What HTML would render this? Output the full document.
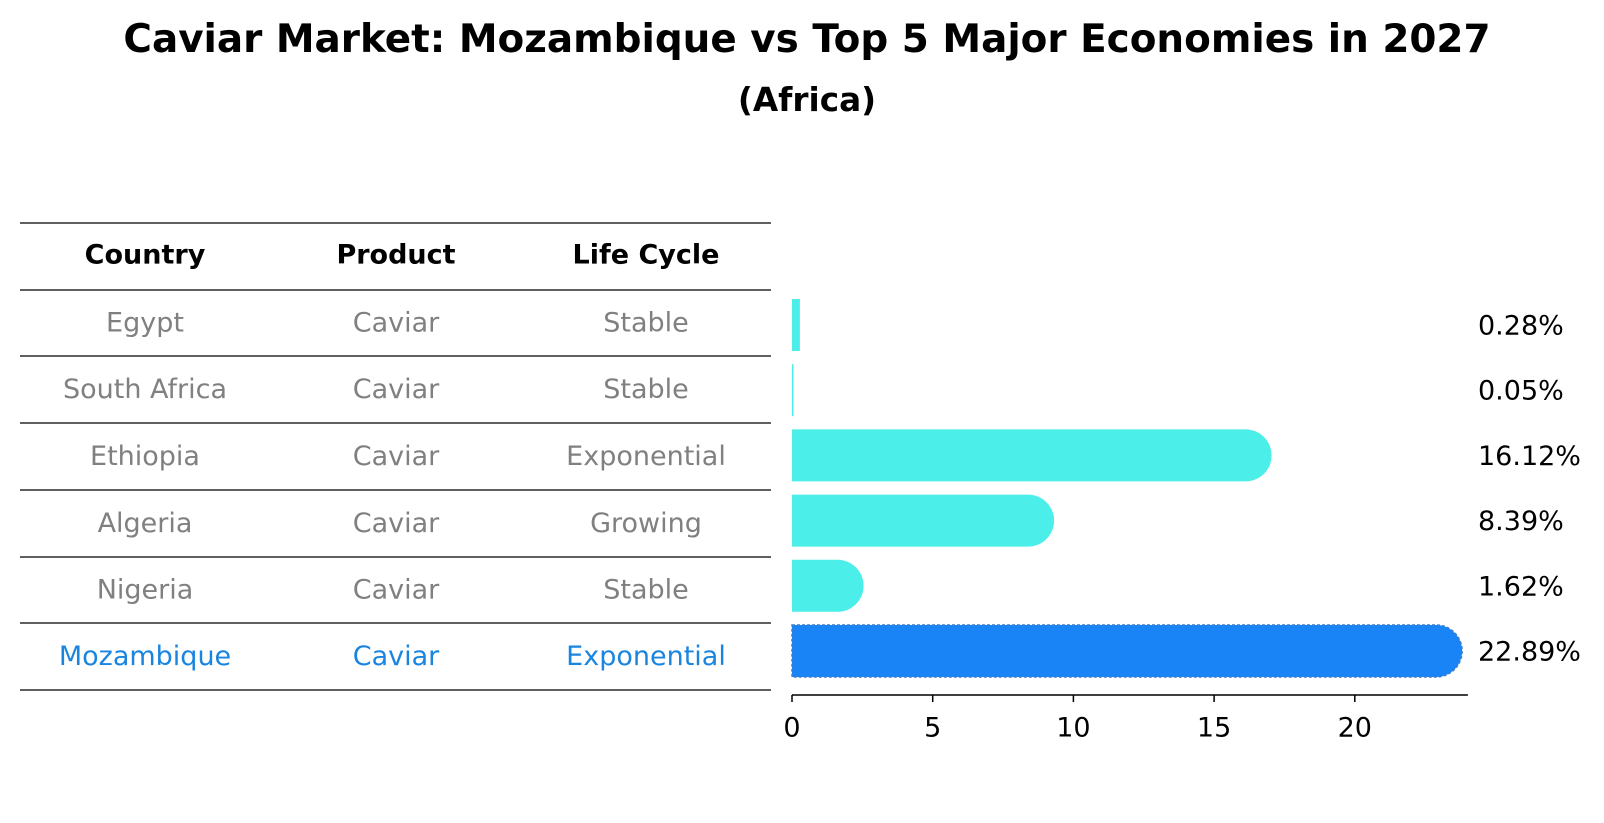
<!DOCTYPE html>
<html><head><meta charset="utf-8"><style>
body{margin:0;background:#fff;}
svg{display:block;font-family:"DejaVu Sans","Liberation Sans",sans-serif;}
</style></head><body>
<svg id="chart" width="1604" height="823" viewBox="0 0 1604 823" xmlns="http://www.w3.org/2000/svg">
<text x="807" y="52" text-anchor="middle" font-size="38.9" font-weight="bold">Caviar Market: Mozambique vs Top 5 Major Economies in 2027</text>
<text x="807" y="111" text-anchor="middle" font-size="32.7" font-weight="bold">(Africa)</text>
<g id="table"></g>
<g id="bars"></g>
</svg>
<script>
const countries = ["Egypt","South Africa","Ethiopia","Algeria","Nigeria","Mozambique"];
const products = ["Caviar","Caviar","Caviar","Caviar","Caviar","Caviar"];
const lifeCycles = ["Stable","Stable","Exponential","Growing","Stable","Exponential"];
const shares = [0.28, 0.05, 16.12, 8.39, 1.62, 22.89];
const tickValues = [0, 5, 10, 15, 20];

const NS = "http://www.w3.org/2000/svg";
function mk(tag, attrs, parent){const e=document.createElementNS(NS,tag);for(const k in attrs)e.setAttribute(k,attrs[k]);parent.appendChild(e);return e;}
const tbl=document.getElementById('table');
const bars=document.getElementById('bars');
const x0=792, pxPerUnit=28.14, xMax=24.02;
const xs=v=>x0+v*pxPerUnit;
const barCenter=i=>325+i*65.2;
const barH=52;
// table
const lineYs=[223,290,356,423,490,557,623,690];
lineYs.forEach((y,i)=>{
  const l=mk('line',{x1:20,x2:771,y1:y,y2:y,stroke:'#000','stroke-width':1.2},tbl);
  
  
});
const colX=[145,396,646];
["Country","Product","Life Cycle"].forEach((h,j)=>{
  const t=mk('text',{x:colX[j],y:256,'text-anchor':'middle','dominant-baseline':'middle','font-size':27,'font-weight':'bold'},tbl);
  t.textContent=h;
  
  
});
countries.forEach((c,i)=>{
  const y=(lineYs[i+1]+lineYs[i+2])/2+1;
  const col=i===countries.length-1?'#1a85e0':'#808080';
  [c,products[i],lifeCycles[i]].forEach((v,j)=>{
    const t=mk('text',{x:colX[j],y:y,'text-anchor':'middle','dominant-baseline':'middle','font-size':27,fill:col},tbl);
    t.textContent=v;
    
    
  });
});
// bars
shares.forEach((v,i)=>{
  const cy=barCenter(i), top=cy-barH/2, xe=xs(v), r=barH/2;
  const isHL=i===shares.length-1;
  const fill=isHL?'#1984f5':'#4beee8';
  let d;
  if(v>1){d=`M${x0},${top}H${xe}A${r},${r} 0 0 1 ${xe},${top+barH}H${x0}Z`;}
  else{d=`M${x0},${top}H${xe}V${top+barH}H${x0}Z`;}
  const p=mk('path',{d:d,fill:fill},bars);
  if(isHL){p.setAttribute('stroke','#3a7fd0');p.setAttribute('stroke-width','1.5');p.setAttribute('stroke-dasharray','3,2');}
  
  
  const t=mk('text',{x:1478,y:cy+2,'dominant-baseline':'middle','font-size':27},bars);
  t.textContent=v.toFixed(2)+'%';
  
  
});
const ax=mk('line',{x1:x0,x2:xs(xMax),y1:695,y2:695,stroke:'#000','stroke-width':1.5},bars);


tickValues.forEach(v=>{
  const tk=mk('line',{x1:xs(v),x2:xs(v),y1:695,y2:702,stroke:'#000','stroke-width':1.5},bars);
  
  
  const t=mk('text',{x:xs(v),y:729,'text-anchor':'middle','dominant-baseline':'middle','font-size':27},bars);
  t.textContent=v;
  
  
});
</script>
</body></html>
